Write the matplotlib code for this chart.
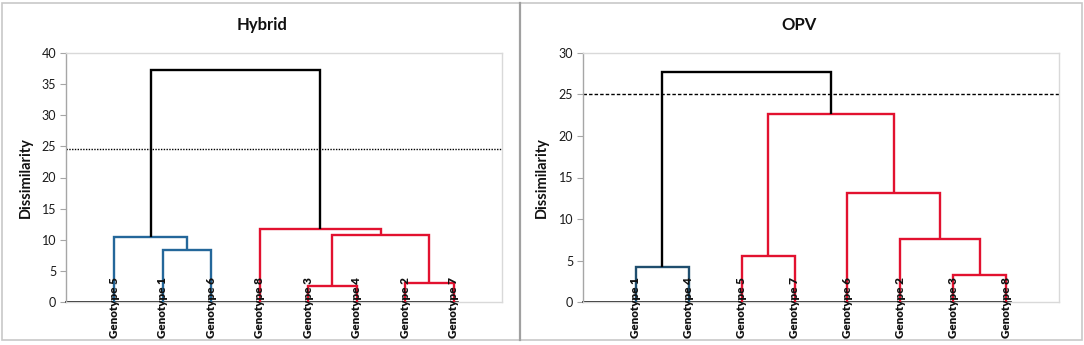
import matplotlib
matplotlib.use("Agg")
import matplotlib.pyplot as plt
from matplotlib.patches import Rectangle

plt.rcParams['font.family'] = ['Lato', 'DejaVu Sans']

# ---------------- data ----------------
hybrid_title = "Hybrid"
hybrid_leaves = ["Genotype 5", "Genotype 1", "Genotype 6", "Genotype 8",
                 "Genotype 3", "Genotype 4", "Genotype 2", "Genotype 7"]
# merges (scipy-style ids: leaves 0..7, new clusters 8, 9, ...)
hybrid_left = [4, 6, 1, 0, 8, 3, 11]
hybrid_right = [5, 7, 2, 10, 9, 12, 13]
hybrid_height = [2.6, 3.0, 8.3, 10.4, 10.7, 11.7, 37.3]
hybrid_group = ["red", "red", "blue", "blue", "red", "red", "top"]
hybrid_cut = 24.5
hybrid_ymax = 40

opv_title = "OPV"
opv_leaves = ["Genotype 1", "Genotype 4", "Genotype 5", "Genotype 7",
              "Genotype 6", "Genotype 2", "Genotype 3", "Genotype 8"]
opv_left = [6, 0, 2, 5, 4, 10, 9]
opv_right = [7, 1, 3, 8, 11, 12, 13]
opv_height = [3.25, 4.2, 5.5, 7.6, 13.1, 22.6, 27.7]
opv_group = ["red", "blue", "red", "red", "red", "red", "top"]
opv_cut = 25.1
opv_ymax = 30

# ---------------- styling ----------------
W, H = 1084, 345
fig = plt.figure(figsize=(W / 100, H / 100), dpi=100)

def fx(px):
    return px / W

def fy(py):
    return 1 - py / H

# panel frames
fig.patches.append(Rectangle((fx(2), fy(340)), fx(518), (340 - 3) / H,
                             transform=fig.transFigure, fill=False,
                             edgecolor="#C8C8C8", lw=1.2))
fig.patches.append(Rectangle((fx(520), fy(340)), fx(562), (340 - 3) / H,
                             transform=fig.transFigure, fill=False,
                             edgecolor="#C8C8C8", lw=1.2))
fig.add_artist(plt.Line2D([fx(520), fx(520)], [fy(340), fy(3)],
                          transform=fig.transFigure, color="#A0A0A0", lw=1.6))


def draw(axrect, leaves, left, right, height, group, cut, ymax, title,
         title_x, colors, cutstyle, ylab_x):
    ax = fig.add_axes(axrect)
    n = len(leaves)
    pos = {i: i + 1.0 for i in range(n)}
    top = {i: 0.0 for i in range(n)}
    for k, (a, b, h, g) in enumerate(zip(left, right, height, group)):
        c = colors[g]
        xa, xb = pos[a], pos[b]
        ax.plot([xa, xa, xb, xb], [top[a], h, h, top[b]], color=c, lw=1.7,
                solid_joinstyle="miter", solid_capstyle="butt", zorder=3)
        pos[n + k] = (xa + xb) / 2
        top[n + k] = h
    ax.set_xlim(0, n + 1)
    ax.set_ylim(0, ymax)
    # baseline
    ax.plot([0, n + 0.1], [0, 0], color="black", lw=1.2, zorder=2,
            clip_on=False)
    ax.axhline(cut, color="black", lw=1.0, linestyle=cutstyle, zorder=2)
    for i, lab in enumerate(leaves):
        ax.annotate(lab, xy=(i + 1, 0), xytext=(0, -3.8),
                    textcoords="offset points", rotation=90, ha="center",
                    va="center", fontsize=8.4, fontweight="heavy",
                    color="#111111", zorder=5, annotation_clip=False)
    ax.set_yticks(range(0, ymax + 1, 5))
    ax.set_xticks([])
    ax.tick_params(axis="y", direction="out", length=4, width=0.8,
                   color="#A6A6A6", labelsize=9, labelcolor="#1a1a1a", pad=3)
    for s in ["top", "right", "bottom"]:
        ax.spines[s].set_color("#D9D9D9")
        ax.spines[s].set_linewidth(1.0)
    ax.spines["left"].set_color("#A6A6A6")
    ax.spines["left"].set_linewidth(1.0)
    ax.set_ylabel("Dissimilarity", fontsize=10.5, fontweight="bold",
                  color="#111111")
    ax.yaxis.set_label_coords(ylab_x, 0.5)
    fig.text(title_x, fy(25), title, ha="center", va="center",
             fontsize=12, fontweight="bold", color="#111111")
    return ax


draw([fx(66), fy(302), fx(436), 249 / H], hybrid_leaves, hybrid_left,
     hybrid_right, hybrid_height, hybrid_group, hybrid_cut, hybrid_ymax,
     hybrid_title, fx(262),
     {"red": "#E2112F", "blue": "#24679A", "top": "black"},
     (0, (1, 1)), -0.076)

draw([fx(583), fy(302), fx(476), 249 / H], opv_leaves, opv_left,
     opv_right, opv_height, opv_group, opv_cut, opv_ymax,
     opv_title, fx(799),
     {"red": "#E2112F", "blue": "#1F4E6E", "top": "black"},
     (0, (2.5, 1.5)), -0.071)

fig.savefig("out.png", dpi=100)
